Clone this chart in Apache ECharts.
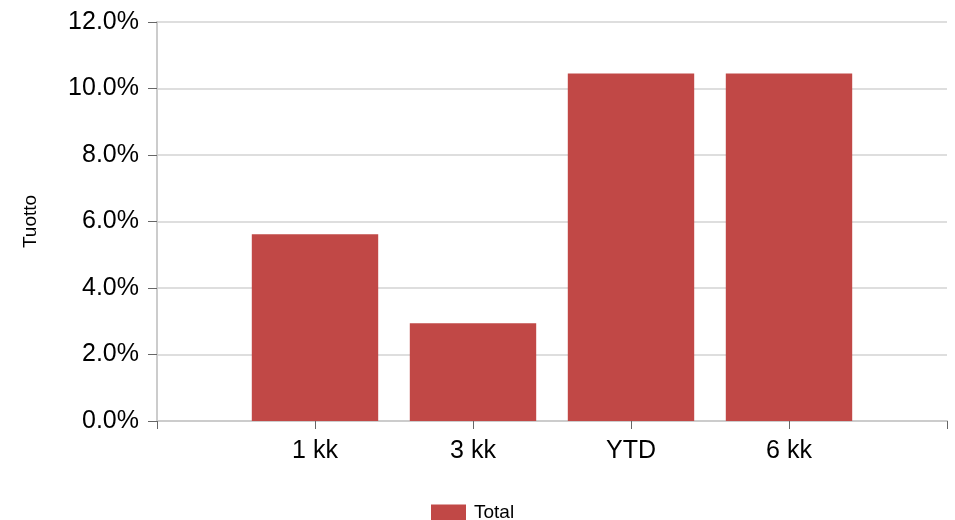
<!DOCTYPE html>
<html>
<head>
<meta charset="utf-8">
<script src="https://cdn.jsdelivr.net/npm/echarts@6/dist/echarts.min.js"></script>
<style>html,body{margin:0;padding:0;background:#fff}#c{width:955px;height:520px}</style>
</head>
<body>
<div id="c"></div>
<script>
const categories = ['1 kk', '3 kk', 'YTD', '6 kk'];
const totalValues = [5.62, 2.94, 10.45, 10.45];
const seriesName = 'Total';
const yTicks = { min: 0, max: 12, interval: 2 };

// pad with empty slots at both ends (chart shows gaps before first / after last)
const axisCats = [''].concat(categories, ['']);
const axisVals = [null].concat(totalValues, [null]);

const chart = echarts.init(document.getElementById('c'));
chart.setOption({
  animation: false,
  textStyle: { fontFamily: 'Liberation Sans, Arial, sans-serif' },
  grid: { left: 157, right: 8, top: 22, bottom: 99 },
  legend: {
    bottom: -2, left: 431, padding: [0, 0],
    itemWidth: 35, itemHeight: 16, itemGap: 10,
    textStyle: { fontSize: 19, color: '#000', padding: [0, 0, 0, 3] },
    icon: 'rect',
    data: [seriesName]
  },
  xAxis: {
    type: 'category',
    data: axisCats,
    boundaryGap: false,
    axisLine: { lineStyle: { color: '#cccccc', width: 2 } },
    axisTick: { show: true, length: 8, lineStyle: { color: '#666', width: 1 } },
    axisLabel: { fontSize: 25, color: '#000', margin: 18 },
    splitLine: { show: false }
  },
  yAxis: {
    type: 'value',
    min: yTicks.min, max: yTicks.max, interval: yTicks.interval,
    name: 'Tuotto',
    nameLocation: 'middle',
    nameGap: 117,
    nameTextStyle: { fontSize: 19, color: '#000' },
    axisLine: { show: true, lineStyle: { color: '#cccccc', width: 2 } },
    axisTick: { show: true, length: 9, lineStyle: { color: '#666', width: 1 } },
    axisLabel: { fontSize: 25, color: '#000', margin: 18, formatter: v => v.toFixed(1) + '%' },
    splitLine: { lineStyle: { color: '#dedede', width: 2 } }
  },
  series: [{
    name: seriesName,
    type: 'bar',
    data: axisVals,
    barWidth: '80%',
    itemStyle: { color: '#c14846' }
  }]
});
</script>
</body>
</html>
